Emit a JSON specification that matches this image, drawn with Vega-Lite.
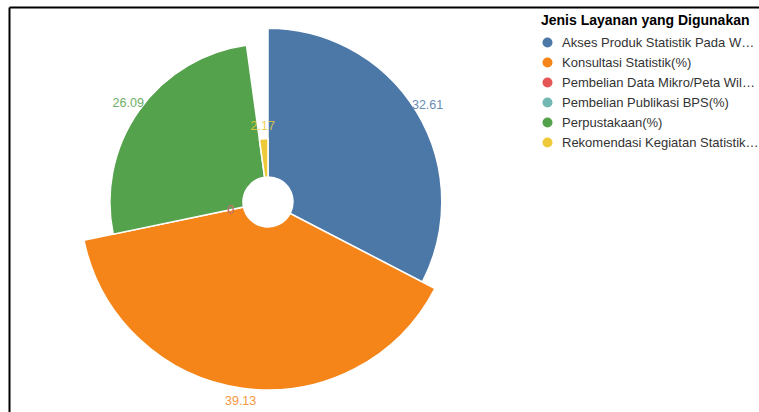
{
  "$schema": "https://vega.github.io/schema/vega-lite/v6.json",
  "autosize": "none",
  "padding": {"left": 9, "top": 7, "right": 232, "bottom": 15},
  "width": 518,
  "height": 390,
  "background": "white",
  "config": {
    "view": {"stroke": null},
    "font": "Liberation Sans"
  },
  "data": {
    "values": [
      {"layanan": "Akses Produk Statistik Pada Website BPS(%)", "persen": 32.61},
      {"layanan": "Konsultasi Statistik(%)", "persen": 39.13},
      {"layanan": "Pembelian Publikasi BPS(%)", "persen": 0},
      {"layanan": "Pembelian Data Mikro/Peta Wilkerstat(%)", "persen": 0},
      {"layanan": "Perpustakaan(%)", "persen": 26.09},
      {"layanan": "Rekomendasi Kegiatan Statistik(%)", "persen": 2.17}
    ]
  },
  "encoding": {
    "theta": {"field": "persen", "type": "quantitative", "stack": true},
    "radius": {"field": "persen", "type": "quantitative", "scale": {"type": "sqrt", "zero": true, "range": [25, 188]}},
    "color": {
      "field": "layanan",
      "type": "nominal",
      "scale": {
        "domain": ["Akses Produk Statistik Pada Website BPS(%)", "Konsultasi Statistik(%)", "Pembelian Data Mikro/Peta Wilkerstat(%)", "Pembelian Publikasi BPS(%)", "Perpustakaan(%)", "Rekomendasi Kegiatan Statistik(%)"],
        "range": ["#4c78a8", "#f58518", "#e45756", "#72b7b2", "#54a24b", "#eeca3b"]
      },
      "legend": {
        "title": "Jenis Layanan yang Digunakan",
        "orient": "right",
        "offset": 7,
        "padding": 7,
        "titleFontSize": 14,
        "titleFontWeight": "bold",
        "titleColor": "#000",
        "titleLimit": 260,
        "titlePadding": 8,
        "labelFontSize": 13,
        "labelColor": "#333",
        "labelLimit": 199,
        "labelOffset": 8,
        "symbolType": "circle",
        "symbolSize": 100,
        "symbolStrokeWidth": 0,
        "rowPadding": 6
      }
    }
  },
  "layer": [
    {"mark": {"type": "arc", "stroke": "#fff", "strokeWidth": 1.5}},
    {"mark": {"type": "text", "radiusOffset": 13, "fontSize": 12.5, "opacity": 0.85}, "encoding": {"text": {"field": "persen", "type": "quantitative"}}},
    {
      "mark": {"type": "point", "opacity": 0},
      "encoding": {
        "theta": null,
        "radius": null,
        "color": null,
        "x": {"datum": 0, "type": "quantitative", "scale": {"domain": [0, 1], "range": [0, 760]}, "axis": {"orient": "top", "domain": true, "domainColor": "#000", "domainWidth": 2, "ticks": false, "labels": false, "grid": false, "title": null}},
        "y": {"datum": 0, "type": "quantitative", "scale": {"domain": [0, 1], "range": [0, 410]}, "axis": {"orient": "left", "domain": true, "domainColor": "#000", "domainWidth": 2, "ticks": false, "labels": false, "grid": false, "title": null}}
      }
    }
  ]
}
